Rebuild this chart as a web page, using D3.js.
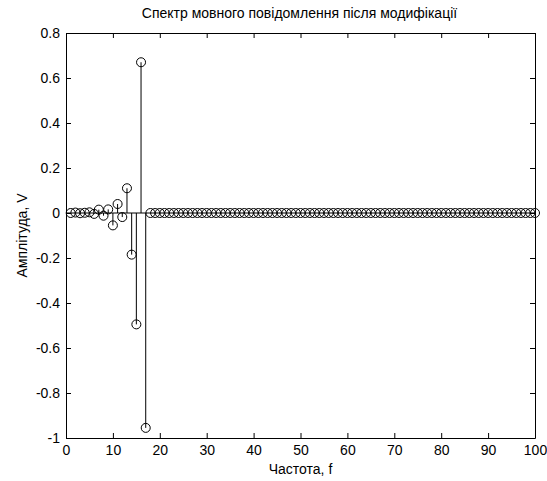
<!DOCTYPE html>
<html>
<head>
<meta charset="utf-8">
<script src="https://cdn.jsdelivr.net/npm/d3@7/dist/d3.min.js"></script>
<style>
  html, body { margin: 0; padding: 0; background: #fff; }
  svg text { font-family: "Liberation Sans", Arial, sans-serif; fill: #000; }
</style>
</head>
<body>
<svg id="chart" width="547" height="481"></svg>
<script>
// Spectrum amplitudes at frequencies 1..100
const frequencies = d3.range(1, 101);
const lowBandAmplitudes = [0, 0.002, -0.001, 0.001, 0.003, -0.004, 0.015, -0.012, 0.016, -0.055,
  0.04, -0.018, 0.11, -0.185, -0.495, 0.67, -0.955];
const amplitudes = frequencies.map((f, i) => i < lowBandAmplitudes.length ? lowBandAmplitudes[i] : 0);

const xTicks = [0, 10, 20, 30, 40, 50, 60, 70, 80, 90, 100];
const yTicks = [0.8, 0.6, 0.4, 0.2, 0, -0.2, -0.4, -0.6, -0.8, -1];
const yTickLabels = ["0.8", "0.6", "0.4", "0.2", "0", "-0.2", "-0.4", "-0.6", "-0.8", "-1"];

const titleText = "Спектр мовного повідомлення після модифікації";
const xLabel = "Частота, f";
const yLabel = "Амплітуда, V";

const margin = { left: 66, right: 12, top: 33, bottom: 43 };
const W = 547, H = 481;
const FS = 14;
const svg = d3.select("#chart");

const x = d3.scaleLinear().domain([0, 100]).range([margin.left, W - margin.right]);
const y = d3.scaleLinear().domain([-1, 0.8]).range([H - margin.bottom, margin.top]);

// Baseline at zero
svg.append("line")
  .attr("x1", x(0)).attr("x2", x(100))
  .attr("y1", y(0)).attr("y2", y(0))
  .attr("stroke", "#000").attr("stroke-width", 1);

// Stems
svg.append("g").selectAll("line").data(frequencies).join("line")
  .attr("x1", d => x(d)).attr("x2", d => x(d))
  .attr("y1", y(0)).attr("y2", (d, i) => y(amplitudes[i]))
  .attr("stroke", "#000").attr("stroke-width", 1);

// Markers
svg.append("g").selectAll("circle").data(frequencies).join("circle")
  .attr("cx", d => x(d)).attr("cy", (d, i) => y(amplitudes[i]))
  .attr("r", 4.5)
  .attr("fill", "none").attr("stroke", "#000").attr("stroke-width", 1);

// Axes box with inward ticks on all sides
const tickLen = 5;
const axisBottom = d3.axisBottom(x).tickValues(xTicks).tickSizeInner(-tickLen).tickSizeOuter(0).tickPadding(7).tickFormat(d3.format("d"));
const axisTop = d3.axisTop(x).tickValues(xTicks).tickSizeInner(-tickLen).tickSizeOuter(0).tickFormat("");
const axisLeft = d3.axisLeft(y).tickValues(yTicks).tickSizeInner(-tickLen).tickSizeOuter(0).tickPadding(6)
  .tickFormat((d, i) => yTickLabels[i]);
const axisRight = d3.axisRight(y).tickValues(yTicks).tickSizeInner(-tickLen).tickSizeOuter(0).tickFormat("");

function style(g) {
  g.select(".domain").attr("stroke", "#000");
  g.selectAll(".tick line").attr("stroke", "#000");
  g.selectAll(".tick text").attr("font-size", FS).attr("font-family", "'Liberation Sans', Arial, sans-serif");
}

svg.append("g").attr("transform", `translate(0,${y(-1)})`).call(axisBottom).call(style);
svg.append("g").attr("transform", `translate(0,${y(0.8)})`).call(axisTop).call(style);
svg.append("g").attr("transform", `translate(${x(0)},0)`).call(axisLeft).call(style);
svg.append("g").attr("transform", `translate(${x(100)},0)`).call(axisRight).call(style);

// Title and axis labels
svg.append("text").attr("x", (x(0) + x(100)) / 2 - 1).attr("y", 18)
  .attr("text-anchor", "middle").attr("font-size", FS).text(titleText);
svg.append("text").attr("x", (x(0) + x(100)) / 2).attr("y", 474)
  .attr("text-anchor", "middle").attr("font-size", FS).text(xLabel);
svg.append("text")
  .attr("transform", `translate(27,${(y(-1) + y(0.8)) / 2}) rotate(-90)`)
  .attr("text-anchor", "middle").attr("font-size", FS).text(yLabel);
</script>
</body>
</html>
